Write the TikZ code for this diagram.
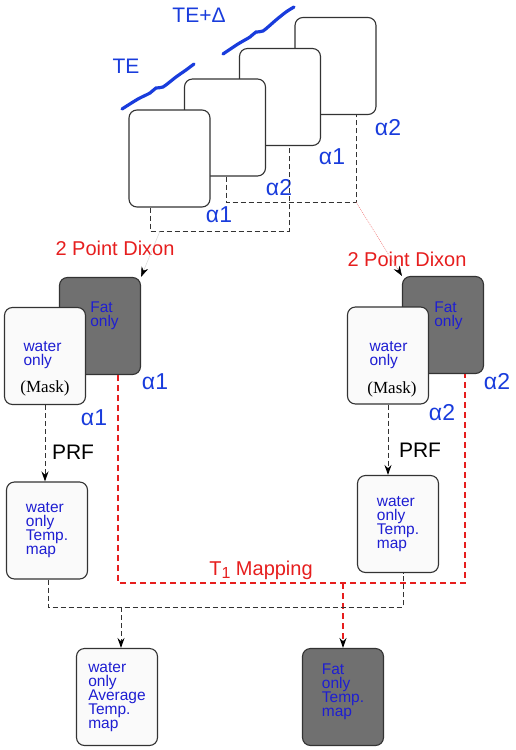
\documentclass[tikz,border=0pt]{standalone}
\usepackage{fontspec}
\setmainfont{Liberation Sans}
\newfontfamily\maskfont{Liberation Serif}
\usetikzlibrary{arrows.meta}
\definecolor{boxblue}{RGB}{30,30,210}
\definecolor{alphablue}{RGB}{25,60,220}
\definecolor{dixonred}{RGB}{230,30,30}
\definecolor{fatgray}{RGB}{112,112,112}
\definecolor{watfill}{RGB}{250,250,250}
\tikzset{
  frame/.style={draw=black!80,line width=1.1pt,fill=white,rounded corners=8pt,
    minimum width=81pt,minimum height=97pt,inner sep=0pt},
  fatbox/.style={frame,fill=fatgray},
  watbox/.style={frame,fill=watfill},
  boxtext/.style={text=boxblue,font=\fontsize{15.5}{14}\selectfont,align=left,inner sep=0pt},
  alph/.style={text=alphablue,font=\fontsize{23}{23}\selectfont,inner sep=0pt},
  redtext/.style={text=dixonred,font=\fontsize{20}{20}\selectfont,inner sep=0pt},
  flow/.style={black!80,line width=1pt,dash pattern=on 5pt off 3pt},
  t1flow/.style={dixonred,line width=2pt,dash pattern=on 6pt off 4pt},
}
\begin{document}
\begin{tikzpicture}[x=1pt,y=-1pt,>={Stealth[black,length=10pt,width=7pt]}]
\useasboundingbox (0,0) rectangle (516,750);
%% echo frames, back to front
\node (f4) at (335.5,66) [frame] {};
\node (f3) at (280,97) [frame] {};
\node (f2) at (225,127.5) [frame] {};
\node (f1) at (169.5,158.5) [frame] {};
\node (te) at (126,66) [alph,font=\fontsize{21}{21}\selectfont] {TE};
\node (ted) at (199,15) [alph,font=\fontsize{21}{21}\selectfont] {TE+Δ};
\draw [alphablue,line width=3.2pt,line cap=round] plot [smooth] coordinates
  {(122,109) (138,99) (150,93) (156,88) (163,87) (176,77) (186,70) (194,64)};
\draw [alphablue,line width=3.2pt,line cap=round] plot [smooth] coordinates
  {(223,54) (238,44) (250,37) (256,32) (263,31) (276,20) (286,12) (294,7)};
\node (a1) at (219,215) [alph] {α1};
\node (a2) at (279,188) [alph] {α2};
\node (a3) at (332,157) [alph] {α1};
\node (a4) at (388,128) [alph] {α2};
%% echo pairs
\coordinate (j1) at (150,231);
\coordinate (k1) at (289,231);
\coordinate (j2) at (226,202);
\coordinate (k2) at (356,202);
\coordinate (k0) at (160,231);
\draw [flow] (f1.south -| j1) -- (j1) -- (k1) -- (k1 |- f3.south);
\draw [flow] (f2.south -| j2) -- (j2) -- (k2) -- (k2 |- f4.south);
%% left Dixon
\node (ldix) at (115,248) [redtext] {2 Point Dixon};
\node (lfat) at (100,326) [fatbox] {};
\node (lwat) at (45,356) [watbox] {};
\node (lfatt) at (104.5,316) [boxtext] {Fat\\only};
\node (lwatt) at (42.5,355) [boxtext] {water\\only};
\node (lmask) at (45,388) [inner sep=0pt,font=\maskfont\fontsize{17}{17}\selectfont] {(Mask)};
\node (la1) at (155,382) [alph] {α1};
\node (la2) at (94,418) [alph] {α1};
\draw [->,black!15,line width=0.5pt] (k0) -- (lfat.north east);
%% right Dixon
\node (rdix) at (407,259) [redtext] {2 Point Dixon};
\node (rfat) at (443,325) [fatbox] {};
\node (rwat) at (388,355.5) [watbox] {};
\node (rfatt) at (448.5,316) [boxtext] {Fat\\only};
\node (rwatt) at (388.5,355) [boxtext] {water\\only};
\node (rmask) at (392,389) [inner sep=0pt,font=\maskfont\fontsize{17}{17}\selectfont] {(Mask)};
\node (ra1) at (497,382) [alph] {α2};
\node (ra2) at (442,413) [alph] {α2};
\draw [->,dixonred!60,line width=0.5pt,dash pattern=on 1pt off 1pt] (k2) -- (rfat.north west);
%% PRF
\node (ltmp) at (47,534.5) [watbox,boxtext,yshift=4pt] {water\\only\\Temp.\\map};
\node (rtmp) at (398,524) [watbox,boxtext] {water\\only\\Temp.\\map};
\draw [flow,->] (lwat.south) -- (lwat.south |- ltmp.north);
\draw [flow,->] (rwat.south) -- (rwat.south |- rtmp.north);
\node (lprf) at (73,452) [inner sep=0pt,font=\fontsize{21}{21}\selectfont] {PRF};
\node (rprf) at (420,450) [inner sep=0pt,font=\fontsize{21}{21}\selectfont] {PRF};
%% T1 mapping
\node (avg) at (117,697) [watbox,boxtext] {water\\only\\Average\\Temp.\\map};
\node (ftmp) at (343,697) [fatbox,boxtext,text depth=14pt] {Fat\\only\\Temp.\\map};
\coordinate (t1l) at (118,583);
\coordinate (t1r) at (465,583);
\coordinate (t1m) at (343,583);
\draw [t1flow] (lfat.south -| t1l) -- (t1l) -- (t1r) -- (t1r |- rfat.south);
\draw [t1flow,->] (t1m) -- (ftmp.north);
\node (t1lab) at (261,570) [redtext] {T\raisebox{-0.35ex}{\fontsize{16}{16}\selectfont 1} Mapping};
%% average
\coordinate (m1) at (48,607);
\coordinate (m2) at (403,607);
\coordinate (m3) at (121,607);
\draw [flow] (ltmp.south -| m1) -- (m1) -- (m2) -- (m2 |- rtmp.south);
\draw [flow,->] (m3) -- (m3 |- avg.north);
%
\end{tikzpicture}
\end{document}
